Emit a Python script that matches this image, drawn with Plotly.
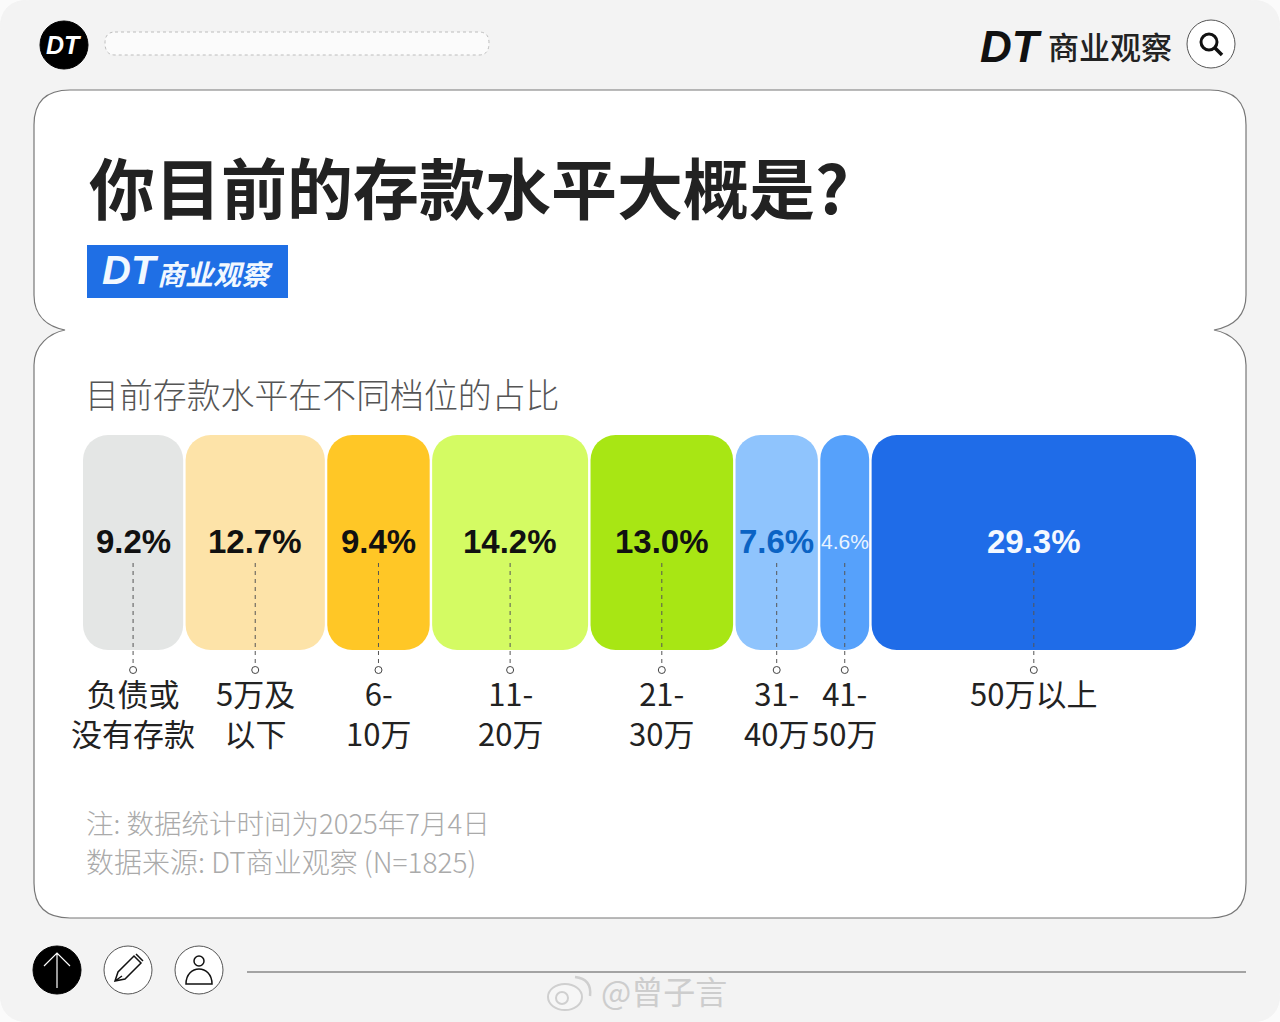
import plotly.graph_objects as go

# chart values
categories = ["负债或<br>没有存款", "5万及<br>以下", "6-<br>10万", "11-<br>20万",
              "21-<br>30万", "31-<br>40万", "41-<br>50万", "50万以上"]
shares = [9.2, 12.7, 9.4, 14.2, 13.0, 7.6, 4.6, 29.3]
bar_colors = ["#e4e6e5", "#fde3a8", "#ffc726", "#d4fb63", "#a8e614", "#8fc4fd", "#56a1fb", "#1f6ce8"]
label_colors = ["#111111", "#111111", "#111111", "#111111", "#111111", "#0b63c4", "#eaf4ff", "#f4f8ff"]

title = "你目前的存款水平大概是?"
subtitle = "目前存款水平在不同档位的占比"
note_lines = ["注: 数据统计时间为2025年7月4日", "数据来源: DT商业观察 (N=1825)"]

CJK = "Noto Sans CJK SC"
LATIN = "Liberation Sans"
GAP = 0.22  # white gap between segments, in % units

starts = [sum(shares[:i]) for i in range(len(shares))]
widths = [v - GAP for v in shares]
mids = [s + w / 2 for s, w in zip(starts, widths)]

fig = go.Figure()

# pixel axis for the page furniture, its subplot is drawn first so the card stays under the bars
fig.add_trace(go.Scatter(x=[0, 1280], y=[0, 1022], mode="none", hoverinfo="skip"))

fig.add_trace(go.Bar(
    y=[542.5] * len(shares),
    x=widths,
    base=starts,
    width=215,
    orientation="h",
    xaxis="x2",
    marker=dict(color=bar_colors, line=dict(width=0)),
    hoverinfo="skip",
))

# leader lines
line_x, line_y = [], []
for m in mids:
    line_x += [m, m, None]
    line_y += [563, 666, None]
fig.add_trace(go.Scatter(x=line_x, y=line_y, mode="lines", xaxis="x2", hoverinfo="skip",
                         line=dict(color="#555555", width=1, dash="4px 4px")))
fig.add_trace(go.Scatter(x=mids, y=[670] * len(mids), mode="markers", xaxis="x2", hoverinfo="skip",
                         marker=dict(size=7, color="white", line=dict(color="#444444", width=1))))

shapes = []


def add_path(path, fill="rgba(0,0,0,0)", color="#000000", width=1):
    shapes.append(dict(type="path", path=path, xref="x", yref="y", fillcolor=fill,
                       line=dict(color=color, width=width), layer="below"))


def add_circle(cx, cy, r, fill="white", color="#555555", width=1, ry=None):
    ry = ry or r
    shapes.append(dict(type="circle", xref="x", yref="y", x0=cx - r, x1=cx + r, y0=cy - ry, y1=cy + ry,
                       fillcolor=fill, line=dict(color=color, width=width), layer="below"))


def add_text(x, y, text, size, color="#111111", family=CJK, weight=400, anchor="center",
             valign="middle", xref="x", angle=0, italic=False):
    fig.add_annotation(x=x, y=y, text=text, xref=xref, yref="y", showarrow=False,
                       xanchor=anchor, yanchor=valign, textangle=angle, align="center",
                       font=dict(size=size, color=color, family=family, weight=weight,
                                 style="italic" if italic else "normal"))


# page and card
add_path("M 30 0 L 1250 0 Q 1280 0 1280 30 L 1280 992 Q 1280 1022 1250 1022 L 30 1022 Q 0 1022 0 992 L 0 30 Q 0 0 30 0 Z",
         fill="#f3f3f3", color="#f3f3f3")
add_path("M 65 330 C 50 327 34 318 34 295 L 34 125 Q 34 90 70 90 L 1210 90 Q 1246 90 1246 125 L 1246 295 "
         "C 1246 318 1230 327 1214 330 C 1230 333 1246 345 1246 365 L 1246 883 Q 1246 918 1210 918 L 70 918 "
         "Q 34 918 34 883 L 34 365 C 34 345 50 333 65 330 Z", fill="white", color="#777777", width=1.2)

# header
add_circle(64, 45, 24, fill="black", color="black")
add_path("M 115 32 L 479 32 Q 489 32 489 43 Q 489 55 479 55 L 115 55 Q 105 55 105 43 Q 105 32 115 32 Z",
         fill="#fbfbfb", color="#bdbdbd")
shapes[-1]["line"]["dash"] = "dot"
add_circle(1211, 44, 24)
add_circle(1209, 42, 8, fill="white", color="#111111", width=3)
add_path("M 1215 48 L 1222 55", color="#111111", width=3.5)

# blue badge
shapes.append(dict(type="rect", xref="x", yref="y", x0=87, x1=288, y0=245, y1=298, fillcolor="#1f6fe5",
                   line=dict(width=0), layer="below"))

# footer icons
add_circle(57, 970, 24, fill="black", color="black")
add_path("M 57 988 L 57 953 M 44 966 L 57 953 L 70 966", color="white", width=1.2)
add_circle(128, 970, 24)
add_path("M 115 981 L 118 972 L 134 956 L 141 963 L 125 979 Z M 115 981 L 122 976 M 136 954 L 143 961", color="#111111", width=1.5)
add_circle(199, 970, 24)
add_circle(199, 961, 5, color="#111111", width=1.5)
add_path("M 186 984 C 186 964 212 964 212 984 Z", color="#111111", width=1.5)
add_path("M 247 972 L 1246 972", color="#555555", width=1.2)

# faint watermarks
for wx, wy in [(560, 75), (1100, 240), (620, 365), (610, 790), (190, 140), (1120, 800)]:
    add_text(wx, wy, "DT 商业观察", 44, color="rgba(0,0,0,0.02)", weight=700, angle=-20)

# texts
add_text(64, 45, "DT", 25, color="white", family=LATIN, weight=700, italic=True)
add_text(1011, 46, "DT", 44, family=LATIN, weight=700, italic=True, color="#111111")
add_text(1110, 45, "商业观察", 31, color="#222222", weight=500)
add_text(87, 185, title, 66, color="#222222", weight=700, anchor="left")
add_text(130, 270, "DT", 40, color="#f2f8ff", family=LATIN, weight=700, italic=True)
add_text(215, 273, "商业观察", 28, color="#f2f8ff", weight=700, italic=True)
add_text(83, 393, subtitle, 33.9, color="#555555", weight=300, anchor="left")
add_text(84, 822, note_lines[0], 27.5, color="#aaaaaa", weight=300, anchor="left")
add_text(84, 861, note_lines[1], 28, color="#aaaaaa", weight=300, anchor="left")

# value and category labels
for i, m in enumerate(mids):
    small = shares[i] < 5
    add_text(m, 541, f"{shares[i]:.1f}%", 21 if small else 33, color=label_colors[i], family=LATIN,
             weight=400 if small else 700, xref="x2")
    add_text(m, 668, categories[i], 31, color="#222222", valign="top", xref="x2", weight=400)

# weibo mark
add_circle(565, 997, 17, fill="#f6f6f6", color="#cfcfcf", width=2, ry=13)
add_circle(562, 998, 6, fill="#f6f6f6", color="#cfcfcf", width=2)
add_path("M 575 977 Q 592 979 590 996", color="#cfcfcf", width=2.5)
add_text(664, 990, "@曾子言", 32, color="#cdcdcd", weight=400)

fig.update_layout(
    width=1280,
    height=1022,
    margin=dict(l=0, r=0, t=0, b=0),
    paper_bgcolor="#fbfbfb",
    plot_bgcolor="rgba(0,0,0,0)",
    barmode="overlay",
    barcornerradius=25,
    showlegend=False,
    shapes=shapes,
    xaxis=dict(domain=[0, 1], range=[0, 1280], visible=False),
    xaxis2=dict(domain=[83 / 1280, 1196 / 1280], range=[0, 100 - GAP], visible=False, anchor="y"),
    yaxis=dict(domain=[0, 1], range=[1022, 0], visible=False),
)

fig.write_html("out.html", config=dict(displayModeBar=False),
               post_script="document.body.style.margin='0';document.body.style.overflow='hidden';")
